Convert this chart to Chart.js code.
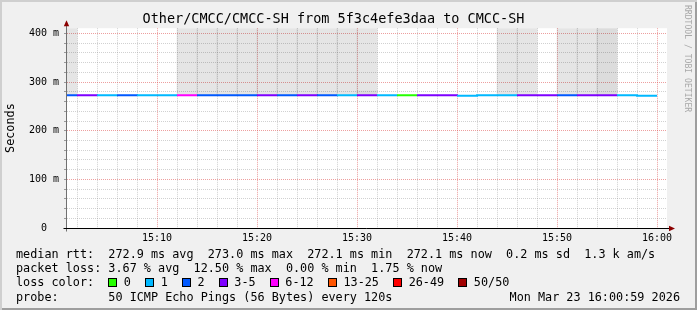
<!DOCTYPE html>
<html><head><meta charset="utf-8">
<script src="https://cdn.jsdelivr.net/npm/chart.js@4/dist/chart.umd.min.js"></script>
<style>
html,body{margin:0;padding:0;background:#fff;}
#wrap{position:relative;width:697px;height:310px;background:#f0f0f0;box-shadow:inset 2px 2px 0 #cfcfcf, inset -2px -2px 0 #9e9e9e;overflow:hidden;font-family:'DejaVu Sans Mono',monospace;}
#c{position:absolute;left:0;top:0;}
.row{position:absolute;left:16px;font-size:11.8px;line-height:14.2px;white-space:pre;color:#000;}
.box{display:inline-block;width:7px;height:7px;border:1px solid #000;vertical-align:middle;margin:0 6.5px 0 0;}
#date{position:absolute;right:17px;font-size:11.8px;line-height:14.2px;white-space:pre;color:#000;}
#wm{position:absolute;left:683px;top:5px;writing-mode:vertical-rl;font-size:8.1px;line-height:10px;color:#a8a8a8;white-space:pre;}
</style></head>
<body>
<div id="wrap">
<canvas id="c" width="697" height="310"></canvas>
<div id="wm">RRDTOOL / TOBI OETIKER</div>
<div class="row" id="r1" style="top:247px"></div>
<div class="row" id="r2" style="top:261.2px"></div>
<div class="row" id="r3" style="top:275.3px"></div>
<div class="row" id="r4" style="top:289.5px"></div>
<div id="date" style="top:289.5px"></div>
</div>
<script>
// ---- data ----
const chartTitle = 'Other/CMCC/CMCC-SH from 5f3c4efe3daa to CMCC-SH';
const intervalStartMin = [0,2,4,6,8,10,12,14,16,18,20,22,24,26,28,30,32,34,36,38,40,42,44,46,48,50,52,54,56,58]; // minutes after 15:00, 120 s steps
const medianMs  = [273.0,273.0,272.9,273.0,272.9,273.0,273.0,273.0,273.0,273.0,273.0,273.0,273.0,272.9,273.0,273.0,273.0,273.0,273.0,273.0,272.1,273.0,272.9,273.0,273.0,273.0,273.0,273.0,273.0,272.1];
const lostPings = [2,3,1,2,1,1,6,2,2,2,3,2,3,2,1,3,1,0,3,3,1,1,1,3,3,2,3,3,1,1];
const smokeTopMs      = [500,null,null,null,null,null,500,500,500,500,500,500,500,500,500,500,null,null,null,null,null,null,500,500,null,500,500,500,null,null];
const smokeDenseTopMs = [null,null,null,null,null,null,null,null,null,null,null,null,null,null,null,282,null,null,null,null,null,null,null,null,null,null,null,500,null,null];
const lossLabels = ['0','1','2','3-5','6-12','13-25','26-49','50/50'];
const lossMinPings = [0,1,2,3,6,13,26,50];
const lossColors = ['#26ff00','#00b8ff','#0059ff','#7e00ff','#ff00ff','#ff5500','#ff0000','#a10000'];
const xMajorMin = [10,20,30,40,50,60];
const xTickLabels = ['15:10','15:20','15:30','15:40','15:50','16:00'];
const yMajorMs = [0,100,200,300,400];
const yTickLabels = ['0  ','100 m','200 m','300 m','400 m'];
const statsRows = [
  'median rtt:  272.9 ms avg  273.0 ms max  272.1 ms min  272.1 ms now  0.2 ms sd  1.3 k am/s',
  'packet loss: 3.67 % avg  12.50 % max  0.00 % min  1.75 % now'
];
const probeText = 'probe:       50 ICMP Echo Pings (56 Bytes) every 120s';
const dateText = 'Mon Mar 23 16:00:59 2026';
const xMin = 1, xMax = 61, yMax = 411;

// ---- helpers ----
const FONT = 'DejaVu Sans Mono';
function lossColor(n){ let k=0; for(let i=0;i<lossMinPings.length;i++){ if(n>=lossMinPings[i]) k=i; } return lossColors[k]; }
const xMinorTicks = []; for (let m=2; m<=60; m+=2) xMinorTicks.push(m);
const yMinorTicks = []; for (let v=0; v<=400; v+=20) yMinorTicks.push(v);
const MAJOR = 'rgba(222,80,80,0.55)', MINOR = 'rgba(140,140,140,0.4)';
function isMajor(c, list){ const t = c && c.tick; const v = t ? t.value : NaN; return list.some(m => Math.abs(m - v) < 1e-6); }

const linePts = intervalStartMin.map((s,i)=>({x:s, y:medianMs[i]}));
linePts.push({x:intervalStartMin[intervalStartMin.length-1]+2, y:medianMs[medianMs.length-1]});
const smokePts = [], densePts = [];
intervalStartMin.forEach((s,i)=>{
  if (smokeTopMs[i]!=null) smokePts.push({x:s+1, y:[medianMs[i], smokeTopMs[i]]});
  if (smokeDenseTopMs[i]!=null) densePts.push({x:s+1, y:[medianMs[i], smokeDenseTopMs[i]]});
});

// ---- html text ----
document.getElementById('r1').textContent = statsRows[0];
document.getElementById('r2').textContent = statsRows[1];
const r3 = document.getElementById('r3');
r3.appendChild(document.createTextNode('loss color:  '));
lossLabels.forEach((l,i)=>{
  const b=document.createElement('span'); b.className='box'; b.style.background=lossColors[i]; r3.appendChild(b);
  r3.appendChild(document.createTextNode(l + (i<lossLabels.length-1?'  ':'')));
});
document.getElementById('r4').textContent = probeText;
document.getElementById('date').textContent = dateText;

// ---- plugin: canvas bg + axes with arrows ----
const frame = {
  id:'frame',
  beforeDraw(chart){
    const {ctx, chartArea:a} = chart;
    ctx.save(); ctx.fillStyle='#ffffff'; ctx.fillRect(a.left, a.top, a.right-a.left, a.bottom-a.top); ctx.restore();
  },
  afterDraw(chart){
    const {ctx, chartArea:a} = chart;
    const x0 = Math.round(a.left)-0.5, y0 = Math.round(a.bottom)+0.5;
    ctx.save();
    ctx.lineWidth = 1;
    ctx.strokeStyle = '#707070';
    ctx.beginPath(); ctx.moveTo(x0, y0+3); ctx.lineTo(x0, a.top-3); ctx.stroke();
    ctx.strokeStyle = '#000';
    ctx.beginPath(); ctx.moveTo(x0-3, y0); ctx.lineTo(a.right+3, y0); ctx.stroke();
    ctx.fillStyle = '#8b0000';
    ctx.beginPath(); ctx.moveTo(x0, a.top-8); ctx.lineTo(x0-2.7, a.top-2); ctx.lineTo(x0+2.7, a.top-2); ctx.closePath(); ctx.fill();
    ctx.beginPath(); ctx.moveTo(a.right+8, y0); ctx.lineTo(a.right+2, y0-2.7); ctx.lineTo(a.right+2, y0+2.7); ctx.closePath(); ctx.fill();
    ctx.restore();
  }
};

new Chart(document.getElementById('c'), {
  type:'line',
  data:{ datasets:[
    { type:'bar', data:smokePts, backgroundColor:'rgba(0,0,0,0.1)', borderWidth:0, grouped:false, barPercentage:1, categoryPercentage:1, order:3 },
    { type:'bar', data:densePts, backgroundColor:'rgba(0,0,0,0.04)', borderWidth:0, grouped:false, barPercentage:1, categoryPercentage:1, order:2 },
    { type:'line', data:linePts, stepped:true, borderWidth:2, pointRadius:0, fill:false, order:0,
      borderColor: lossColor(lostPings[0]),
      segment:{ borderColor: c => lossColor(lostPings[Math.min(c.p0DataIndex, lostPings.length-1)]) } }
  ]},
  options:{
    responsive:false, animation:false, devicePixelRatio:1,
    layout:{ padding:{ left:0, right:30, top:0, bottom:0 } },
    plugins:{
      legend:{display:false}, tooltip:{enabled:false},
      title:{ display:true, text:chartTitle, color:'#000', font:{family:FONT, size:13.5, weight:'normal', lineHeight:1.2}, padding:{top:11, bottom:1} }
    },
    scales:{
      x:{ type:'linear', min:xMin, max:xMax, offset:false,
        afterFit(s){ s.height = 82; },
        afterBuildTicks(s){ s.ticks = xMinorTicks.map(v=>({value:v})); },
        grid:{ offset:false, drawTicks:false, lineWidth:1,
          color: c => isMajor(c, xMajorMin) ? MAJOR : MINOR },
        border:{ display:false, dash:[1,1] },
        ticks:{ autoSkip:false, maxRotation:0, padding:4, color:'#000', font:{family:FONT, size:10},
          callback: v => { const k = xMajorMin.indexOf(v); return k>=0 ? xTickLabels[k] : ''; } }
      },
      y:{ type:'linear', min:0, max:yMax,
        afterFit(s){ s.width = 67; },
        afterBuildTicks(s){ s.ticks = yMinorTicks.map(v=>({value:v})); },
        grid:{ drawTicks:true, tickLength:3, tickColor:'#999', tickWidth:1, lineWidth:1,
          color: c => isMajor(c, yMajorMs) ? MAJOR : MINOR },
        border:{ display:false, dash:[1,1] },
        ticks:{ autoSkip:false, padding:5, color:'#000', font:{family:FONT, size:10},
          callback: v => { const k = yMajorMs.indexOf(v); return k>=0 ? yTickLabels[k] : ''; } },
        title:{ display:true, text:'Seconds', color:'#000', font:{family:FONT, size:11.8}, padding:{top:4, bottom:0} }
      }
    }
  },
  plugins:[frame]
});
</script>
</body></html>
